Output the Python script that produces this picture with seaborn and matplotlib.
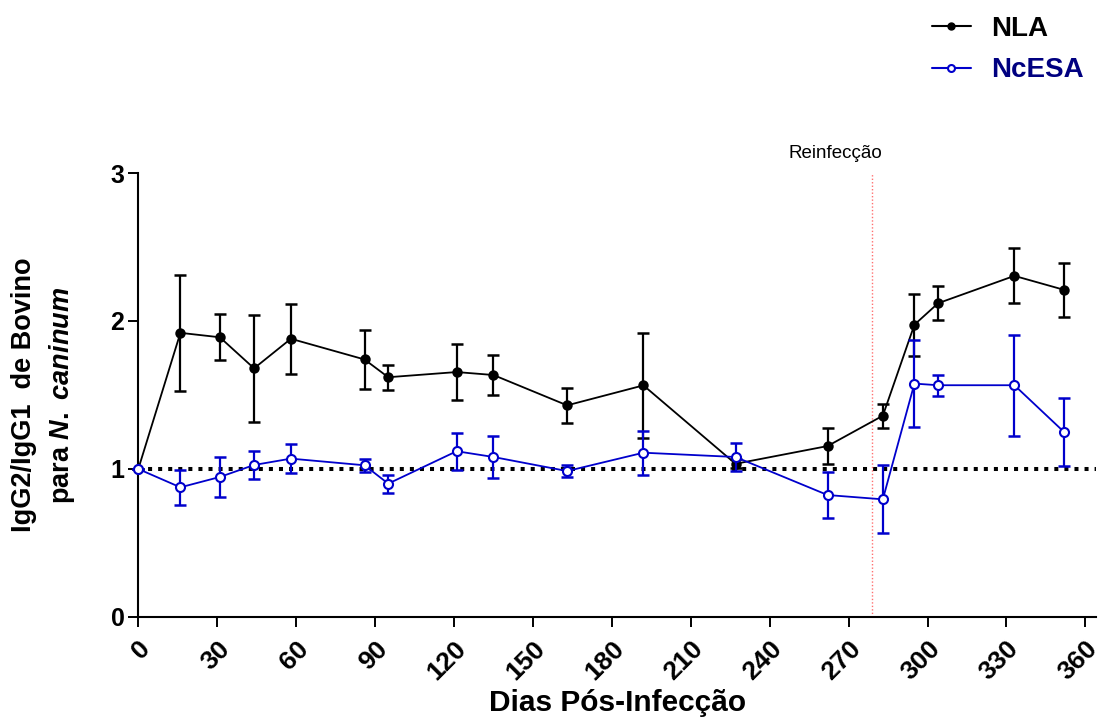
import numpy as np
import pandas as pd
import matplotlib
matplotlib.use("Agg")
import matplotlib.pyplot as plt
from matplotlib.lines import Line2D
import seaborn as sns

# ---- data ----
days = [0, 16, 31, 44, 58, 86, 95, 121, 135, 163, 192, 227, 262, 283, 295, 304, 333, 352]
nla = [1.0, 1.92, 1.89, 1.68, 1.88, 1.74, 1.62, 1.655, 1.635, 1.43, 1.565, 1.035,
       1.155, 1.36, 1.975, 2.12, 2.305, 2.21]
nla_err = [0, 0.39, 0.155, 0.36, 0.235, 0.2, 0.085, 0.187, 0.137, 0.12, 0.357, 0.03,
           0.12, 0.08, 0.21, 0.115, 0.185, 0.18]
ncesa = [1.0, 0.876, 0.946, 1.027, 1.07, 1.025, 0.901, 1.12, 1.081, 0.986, 1.11, 1.081,
         0.824, 0.795, 1.577, 1.566, 1.566, 1.248]
ncesa_err = [0, 0.12, 0.134, 0.092, 0.1, 0.045, 0.06, 0.126, 0.14, 0.04, 0.148, 0.095,
             0.155, 0.23, 0.295, 0.072, 0.342, 0.23]
series_names = ["NLA", "NcESA"]
xticks = list(range(0, 361, 30))
yticks = [0, 1, 2, 3]
reinfection_day = 279

sns.set_theme(style="white")
plt.rcParams["font.family"] = ["Liberation Sans", "DejaVu Sans"]
plt.rcParams["mathtext.fontset"] = "custom"
plt.rcParams["mathtext.it"] = "Liberation Sans:italic:bold"
plt.rcParams["mathtext.rm"] = "Liberation Sans:bold"
for k in ["text.color", "axes.labelcolor", "xtick.color", "ytick.color"]:
    plt.rcParams[k] = "black"

black = "#000000"
blue = "#0000CC"
navy = "#000080"

fig = plt.figure(figsize=(11.02, 7.2), dpi=100)
ax = fig.add_axes([0.1255, 0.1431, 0.869, 0.6166])

df = pd.DataFrame({"day": days * 2,
                   "value": nla + ncesa,
                   "err": nla_err + ncesa_err,
                   "serie": [series_names[0]] * len(days) + [series_names[1]] * len(days)})

# reference lines
ax.axhline(1, color="black", lw=2.9, ls=(0, (1, 1.5)), zorder=1, clip_on=False)
ax.axvline(reinfection_day, color="#FF7070", lw=1.0, ls=(0, (1, 1.5)), zorder=1)
ax.text(265, 3.10, "Reinfecção", ha="center", va="baseline", fontsize=13.5, color="black")

styles = {
    "NLA": dict(color=black, mfc=black, mec=black, marker="o", ms=6),
    "NcESA": dict(color=blue, mfc="white", mec=blue, marker="o", ms=6.5),
}
for name in series_names:
    sub = df[df["serie"] == name]
    st = styles[name]
    ax.errorbar(sub["day"], sub["value"], yerr=sub["err"], fmt="none",
                ecolor=st["color"], elinewidth=1.6, capsize=4, capthick=1.8,
                zorder=3 if name == "NLA" else 5, clip_on=False)
    sns.lineplot(data=sub, x="day", y="value", ax=ax, color=st["color"],
                 lw=1.3, marker=st["marker"], markersize=st["ms"],
                 markerfacecolor=st["mfc"], markeredgecolor=st["mec"],
                 markeredgewidth=1.5, zorder=4 if name == "NLA" else 6,
                 legend=False, clip_on=False)

ax.set_xlim(0, 364)
ax.set_ylim(0, 3)
ax.set_xticks(xticks)
ax.set_yticks(yticks)
ax.set_xticklabels([str(t) for t in xticks], rotation=45, ha="right",
                   rotation_mode="anchor", fontsize=19, fontweight="bold")
ax.set_yticklabels([str(t) for t in yticks], fontsize=18, fontweight="bold")
ax.tick_params(axis="both", direction="out", length=7, width=1.4, color="black",
               bottom=True, left=True)
ax.tick_params(axis="x", pad=7)
ax.tick_params(axis="y", pad=3)
for s in ["top", "right"]:
    ax.spines[s].set_visible(False)
for s in ["left", "bottom"]:
    ax.spines[s].set_color("black")
    ax.spines[s].set_linewidth(1.5)

ax.set_xlabel("Dias Pós-Infecção", fontsize=21.5, fontweight="bold")
ax.xaxis.set_label_coords(0.5, -0.163)
ax.xaxis.label.set_va("top")
ax.set_ylabel("IgG2/IgG1  de Bovino\npara $\\mathit{N.\\ caninum}$", fontsize=19.5,
              fontweight="bold", linespacing=1.45)
ax.yaxis.set_label_coords(-0.064, 0.5)

handles = [
    Line2D([0], [0], color=black, lw=1.5, marker="o", ms=5, mfc=black, mec=black),
    Line2D([0], [0], color=blue, lw=1.5, marker="o", ms=5, mfc="white", mec=blue, mew=1.5),
]
leg = fig.legend(handles, series_names, loc="upper right",
                 bbox_to_anchor=(1084 / 1102, 1 - 16 / 720), frameon=False,
                 prop={"size": 20, "weight": "bold"}, handlelength=1.4,
                 handletextpad=0.75, labelspacing=0.55, borderpad=0, borderaxespad=0)
leg.get_texts()[0].set_color(black)
leg.get_texts()[1].set_color(navy)

fig.savefig("out.png", dpi=100, facecolor="white")
